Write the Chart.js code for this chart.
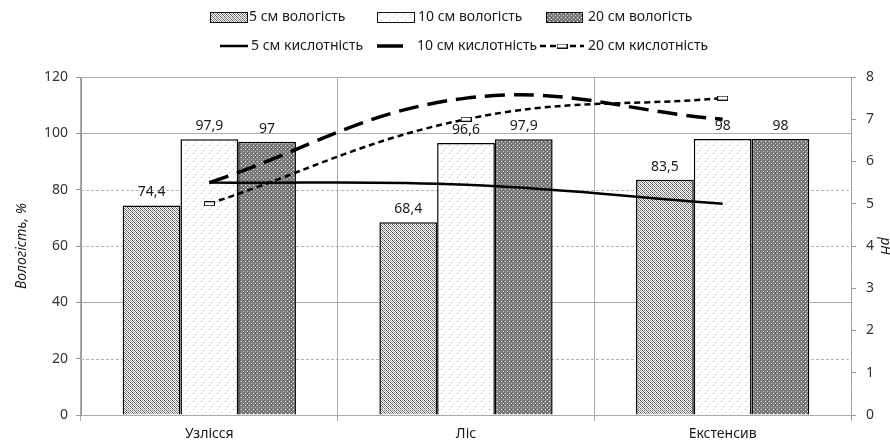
<!DOCTYPE html>
<html>
<head>
<meta charset="utf-8">
<script src="https://cdn.jsdelivr.net/npm/chart.js@4.4.0/dist/chart.umd.min.js"></script>
<style>
  html, body { margin: 0; padding: 0; background: #fff; }
  #wrap { width: 890px; height: 446px; }
</style>
</head>
<body>
<div id="wrap"><canvas id="chart" width="890" height="446"></canvas></div>
<script>
// ---- data ----
const categories = ['Узлісся', 'Ліс', 'Екстенсив'];
const moisture5 = [74.4, 68.4, 83.5];
const moisture10 = [97.9, 96.6, 98];
const moisture20 = [97, 97.9, 98];
const acidity5 = [5.5, 5.45, 5.0];
const acidity10 = [5.5, 7.5, 7.0];
const acidity20 = [5.0, 7.0, 7.5];
const moistureRange = [0, 120, 20];   // min, max, step
const phRange = [0, 8, 1];
const dashedGridValues = [20, 60, 80];

const FONT = '"Noto Sans", "Open Sans", sans-serif';

// ---- fill patterns for the bars ----
function makePattern(size, bg, dots) {
    const c = document.createElement('canvas');
    c.width = size; c.height = size;
    const g = c.getContext('2d');
    g.fillStyle = bg;
    g.fillRect(0, 0, size, size);
    dots.forEach(d => {
        g.fillStyle = d[2];
        g.fillRect(d[0], d[1], 1, 1);
    });
    return g.createPattern(c, 'repeat');
}

const patCross = makePattern(4, '#ffffff', [
    [0, 0, '#555'], [2, 0, '#888'], [1, 1, '#666'], [3, 1, '#aaa'],
    [0, 2, '#888'], [2, 2, '#555'], [1, 3, '#aaa'], [3, 3, '#666']
]);
const patDots = makePattern(8, '#ffffff', [
    [1, 1, '#aaa'], [5, 4, '#bbb'], [3, 6, '#aaa']
]);
const patDark = makePattern(4, '#7c7c7c', [
    [1, 1, '#f0f0f0'], [3, 3, '#c8c8c8'], [3, 1, '#5e5e5e']
]);

// small white marker for the 20 cm line
const marker = document.createElement('canvas');
marker.width = 11; marker.height = 5;
(function () {
    const g = marker.getContext('2d');
    g.fillStyle = '#fff';
    g.fillRect(0, 0, 11, 5);
    g.strokeStyle = '#111';
    g.lineWidth = 1;
    g.strokeRect(0.5, 0.5, 10, 4);
})();

function fmt(v) {
    return String(v).replace('.', ',');
}

// ---- legend drawn on the canvas (two rows) ----
const legendRows = [
    { y: 17, items: [
        { kind: 'bar', fill: patCross, sx: 210, sw: 37, tx: 249, text: '5 см вологість' },
        { kind: 'bar', fill: patDots, sx: 377, sw: 37, tx: 418, text: '10 см вологість' },
        { kind: 'bar', fill: patDark, sx: 546, sw: 36, tx: 588, text: '20 см вологість' }
    ]},
    { y: 46, items: [
        { kind: 'line', dash: [], width: 2.5, sx: 220, sw: 28, tx: 251, text: '5 см кислотність' },
        { kind: 'line', dash: [], width: 3.5, sx: 377, sw: 26, tx: 417, text: '10 см кислотність' },
        { kind: 'line', dash: [6, 4], width: 2.5, sx: 540, sw: 44, tx: 588, text: '20 см кислотність', marker: true }
    ]}
];

const legendPlugin = {
    id: 'twoRowLegend',
    afterDraw(chart) {
        const ctx = chart.ctx;
        ctx.save();
        ctx.font = '14px ' + FONT;
        ctx.textBaseline = 'middle';
        legendRows.forEach(row => {
            row.items.forEach(it => {
                if (it.kind === 'bar') {
                    ctx.fillStyle = it.fill;
                    ctx.fillRect(it.sx, row.y - 5, it.sw, 10);
                    ctx.strokeStyle = '#111';
                    ctx.lineWidth = 1;
                    ctx.strokeRect(it.sx + 0.5, row.y - 4.5, it.sw, 10);
                } else {
                    ctx.strokeStyle = '#000';
                    ctx.lineWidth = it.width;
                    ctx.setLineDash(it.dash);
                    ctx.beginPath();
                    ctx.moveTo(it.sx, row.y);
                    ctx.lineTo(it.sx + it.sw, row.y);
                    ctx.stroke();
                    ctx.setLineDash([]);
                    if (it.marker) {
                        ctx.drawImage(marker, it.sx + it.sw / 2 - 5.5, row.y - 2.5);
                    }
                }
                ctx.fillStyle = '#1a1a1a';
                ctx.fillText(it.text, it.tx, row.y);
            });
        });
        ctx.restore();
    }
};

// ---- dashed grid lines + dashed right axis ----
const gridPlugin = {
    id: 'dashedGrid',
    beforeDatasetsDraw(chart) {
        const ctx = chart.ctx;
        const area = chart.chartArea;
        const y = chart.scales.y;
        ctx.save();
        ctx.strokeStyle = '#b5b5b5';
        ctx.lineWidth = 1;
        ctx.setLineDash([3, 2]);
        dashedGridValues.forEach(v => {
            const py = Math.round(y.getPixelForValue(v)) + 0.5;
            ctx.beginPath();
            ctx.moveTo(area.left, py);
            ctx.lineTo(area.right, py);
            ctx.stroke();
        });
        // right axis line
        const rx = Math.round(area.right) + 0.5;
        ctx.strokeStyle = '#999';
        ctx.beginPath();
        ctx.moveTo(rx, area.top);
        ctx.lineTo(rx, area.bottom + 5);
        ctx.stroke();
        ctx.restore();
    }
};

// ---- value labels above the bars ----
const barLabelPlugin = {
    id: 'barLabels',
    afterDatasetsDraw(chart) {
        const ctx = chart.ctx;
        ctx.save();
        ctx.font = '14px ' + FONT;
        ctx.fillStyle = '#1a1a1a';
        ctx.textAlign = 'center';
        ctx.textBaseline = 'bottom';
        chart.data.datasets.forEach((ds, i) => {
            if (ds.type !== 'bar') return;
            const meta = chart.getDatasetMeta(i);
            meta.data.forEach((bar, j) => {
                ctx.fillText(fmt(ds.data[j]), bar.x, bar.y - 6);
            });
        });
        ctx.restore();
    }
};

new Chart(document.getElementById('chart'), {
    data: {
        labels: categories,
        datasets: [
            {
                type: 'line', label: '5 см кислотність', data: acidity5, yAxisID: 'y1',
                borderColor: '#000', borderWidth: 2.5, tension: 0.4, pointRadius: 0, order: 0
            },
            {
                type: 'line', label: '10 см кислотність', data: acidity10, yAxisID: 'y1',
                borderColor: '#000', borderWidth: 3.5, borderDash: [20, 9], tension: 0.4,
                pointRadius: 0, order: 0
            },
            {
                type: 'line', label: '20 см кислотність', data: acidity20, yAxisID: 'y1',
                borderColor: '#000', borderWidth: 2.5, borderDash: [6, 4], tension: 0.4,
                pointStyle: marker, pointRadius: 5, order: 0
            },
            {
                type: 'bar', label: '5 см вологість', data: moisture5, yAxisID: 'y',
                backgroundColor: patCross, borderColor: '#000', borderWidth: 1.5, order: 1
            },
            {
                type: 'bar', label: '10 см вологість', data: moisture10, yAxisID: 'y',
                backgroundColor: patDots, borderColor: '#000', borderWidth: 1.5, order: 1
            },
            {
                type: 'bar', label: '20 см вологість', data: moisture20, yAxisID: 'y',
                backgroundColor: patDark, borderColor: '#000', borderWidth: 1.5, order: 1
            }
        ]
    },
    options: {
        responsive: false,
        animation: false,
        devicePixelRatio: 1,
        layout: { padding: { top: 77, left: 0, right: 0, bottom: 0 } },
        datasets: {
            bar: { categoryPercentage: 0.675, barPercentage: 1.0 }
        },
        plugins: {
            legend: { display: false },
            tooltip: { enabled: false }
        },
        scales: {
            x: {
                type: 'category',
                offset: true,
                grid: { offset: true, color: '#aaa', tickLength: 6 },
                border: { color: '#aaa' },
                ticks: { font: { family: FONT, size: 14 }, color: '#1a1a1a', padding: 5 },
                afterFit(s) { s.height = 31; }
            },
            y: {
                position: 'left',
                min: moistureRange[0], max: moistureRange[1],
                ticks: { stepSize: moistureRange[2], font: { family: FONT, size: 14 }, color: '#333', padding: 8 },
                grid: {
                    color: ctx => dashedGridValues.includes(ctx.tick && ctx.tick.value) ? 'rgba(0,0,0,0)' : '#aaa',
                    tickColor: '#999',
                    tickLength: 5
                },
                border: { color: '#999' },
                title: {
                    display: true, text: 'Вологість, %',
                    font: { family: FONT, size: 14, style: 'italic' }, color: '#1a1a1a',
                    padding: { top: 14, bottom: 0 }
                },
                afterFit(s) { s.width = 81; }
            },
            y1: {
                position: 'right',
                min: phRange[0], max: phRange[1],
                ticks: { stepSize: phRange[2], font: { family: FONT, size: 14 }, color: '#333', padding: 10 },
                grid: { drawOnChartArea: false, color: '#999', tickLength: 5 },
                border: { display: false },
                title: {
                    display: true, text: 'pH',
                    font: { family: FONT, size: 14, style: 'italic' }, color: '#1a1a1a',
                    padding: { top: -3, bottom: -3 }
                },
                afterFit(s) { s.width = 39; }
            }
        }
    },
    plugins: [gridPlugin, barLabelPlugin, legendPlugin]
});
</script>
</body>
</html>
